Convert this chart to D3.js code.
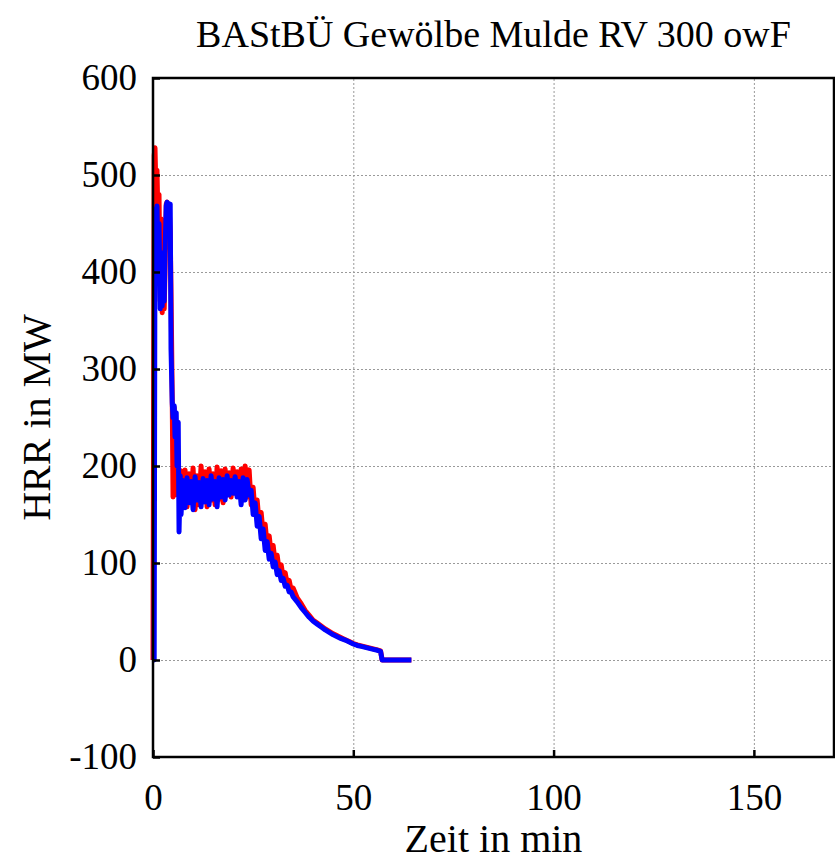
<!DOCTYPE html>
<html>
<head>
<meta charset="utf-8">
<script src="https://cdn.jsdelivr.net/npm/d3@7"></script>
<style>
  body { margin: 0; background: #fff; }
  text { font-family: "Liberation Serif", "DejaVu Serif", serif; fill: #000; }
  .grid line { stroke: #9a9a9a; stroke-dasharray: 2,2; stroke-width: 1; }
  .grid path { display: none; }
</style>
</head>
<body>
<div id="chart"></div>
<script>
// chart values
var title = "BAStBÜ Gewölbe Mulde RV 300 owF";
var xLabel = "Zeit in min";
var yLabel = "HRR in MW";
var xTicks = [0, 50, 100, 150];
var yTicks = [-100, 0, 100, 200, 300, 400, 500, 600];

// time in min
var zeit = [0, 0.3, 0.5, 0.8, 1.0, 1.3, 1.5, 1.8, 2.0, 2.3, 2.5, 2.8, 3.0, 3.3, 3.5, 3.8, 4.0, 4.3, 4.5, 4.8,
  5.0, 5.3, 5.5, 5.8, 6.0, 6.3, 6.5, 6.8, 7.0, 7.5, 8, 8.5, 9, 9.5, 10, 10.5, 11, 11.5, 12, 12.5,
  13, 13.5, 14, 14.5, 15, 15.5, 16, 16.5, 17, 17.5, 18, 18.5, 19, 19.5, 20, 20.5, 21, 21.5, 22, 22.5,
  23, 23.5, 24, 24.5, 25, 25.5, 26, 26.5, 27, 27.5, 28, 28.5, 29, 29.5, 30, 30.5, 31, 31.5, 32, 32.5,
  33, 33.5, 34, 34.5, 35, 36, 37, 38, 39, 40, 41, 42, 43, 44, 45, 46, 47, 48, 49, 50,
  51, 52, 53, 54, 55, 56, 56.8, 57.2, 58, 60, 62, 64.5];

// red series (HRR in MW)
var hrrRot = [0, 520, 528, 470, 505, 440, 480, 370, 455, 358, 430, 362, 400, 470, 472, 465, 470, 440, 380, 270,
  168, 260, 170, 230, 175, 200, 185, 170, 195, 160, 196, 158, 192, 162, 198, 155, 190, 160, 200, 163,
  194, 158, 197, 165, 192, 160, 199, 166, 195, 162, 197, 170, 193, 168, 198, 172, 194, 170, 197, 175,
  200, 168, 196, 160, 178, 150, 165, 140, 152, 130, 140, 118, 128, 110, 118, 100, 108, 92, 98, 85,
  90, 78, 82, 72, 74, 64, 58, 51, 46, 41, 38, 35, 32, 29.5, 27, 25, 23, 21, 19, 17,
  15.5, 14.5, 13.5, 12.5, 11.5, 10.5, 9.5, 0, 0, 0, 0, 0];

// blue series (HRR in MW)
var hrrBlau = [0, 0, 465, 440, 468, 400, 450, 362, 420, 365, 410, 370, 420, 468, 472, 470, 465, 470, 320, 265,
  250, 262, 230, 255, 200, 245, 132, 190, 150, 185, 157, 188, 162, 184, 155, 189, 165, 183, 158, 187,
  163, 185, 160, 190, 166, 184, 158, 188, 168, 186, 165, 190, 170, 185, 172, 189, 168, 184, 160, 188,
  165, 186, 170, 175, 150, 162, 138, 148, 125, 135, 113, 122, 104, 110, 96, 101, 88, 92, 82, 84,
  76, 77, 70, 70, 65, 60, 54, 49, 44, 40, 37, 34, 31, 28.5, 26, 24, 22, 20.5, 18.5, 16.5,
  15, 14, 13, 12, 11, 10, 9, 0, 0, 0, 0, 0];

var width = 835, height = 860;
var margin = {top: 78, right: 1, bottom: 103, left: 153};

var svg = d3.select("#chart").append("svg")
  .attr("width", width)
  .attr("height", height);

var xScale = d3.scaleLinear().domain([0, 170]).range([margin.left, width - margin.right]);
var yScale = d3.scaleLinear().domain([-100, 600]).range([height - margin.bottom, margin.top]);

var plotW = width - margin.right - margin.left;
var plotH = height - margin.bottom - margin.top;

// grid lines
svg.append("g")
  .attr("class", "grid")
  .attr("transform", "translate(0," + (height - margin.bottom) + ")")
  .call(d3.axisBottom(xScale).tickValues(xTicks.slice(1)).tickSize(-plotH).tickFormat(""));
svg.append("g")
  .attr("class", "grid")
  .attr("transform", "translate(" + margin.left + ",0)")
  .call(d3.axisLeft(yScale).tickValues(yTicks.slice(1, -1)).tickSize(-plotW).tickFormat(""));

// lines
var line = d3.line()
  .x(function(d, i) { return xScale(zeit[i]); })
  .y(function(d) { return yScale(d); });

svg.append("path")
  .datum(hrrRot)
  .attr("d", line)
  .attr("fill", "none")
  .attr("stroke", "#ff0000")
  .attr("stroke-width", 5)
  .attr("stroke-linejoin", "round");

svg.append("path")
  .datum(hrrBlau)
  .attr("d", line)
  .attr("fill", "none")
  .attr("stroke", "#0000ff")
  .attr("stroke-width", 5)
  .attr("stroke-linejoin", "round");

// frame
svg.append("rect")
  .attr("x", margin.left)
  .attr("y", margin.top)
  .attr("width", plotW)
  .attr("height", plotH)
  .attr("fill", "none")
  .attr("stroke", "#000")
  .attr("stroke-width", 2.5);

// axes with inward ticks
var axisX = svg.append("g")
  .attr("transform", "translate(0," + (height - margin.bottom) + ")")
  .call(d3.axisBottom(xScale).tickValues(xTicks).tickSize(-7).tickPadding(27)
    .tickSizeOuter(0).tickFormat(function(d) { return String(d); }));
var axisY = svg.append("g")
  .attr("transform", "translate(" + margin.left + ",0)")
  .call(d3.axisLeft(yScale).tickValues(yTicks).tickSize(-7).tickPadding(16)
    .tickSizeOuter(0).tickFormat(function(d) { return String(d); }));

[axisX, axisY].forEach(function(a) {
  a.select(".domain").remove();
  a.selectAll("line").attr("stroke", "#000").attr("stroke-width", 2.5);
  a.selectAll("text").style("font-size", "37px").attr("font-family", null);
});

// labels
svg.append("text")
  .attr("x", (margin.left + width - margin.right) / 2)
  .attr("y", 47)
  .attr("text-anchor", "middle")
  .style("font-size", "38px")
  .text(title);

svg.append("text")
  .attr("x", (margin.left + width - margin.right) / 2)
  .attr("y", 852)
  .attr("text-anchor", "middle")
  .style("font-size", "40px")
  .text(xLabel);

svg.append("text")
  .attr("transform", "translate(50," + ((margin.top + height - margin.bottom) / 2) + ") rotate(-90)")
  .attr("text-anchor", "middle")
  .style("font-size", "40px")
  .text(yLabel);
</script>
</body>
</html>
